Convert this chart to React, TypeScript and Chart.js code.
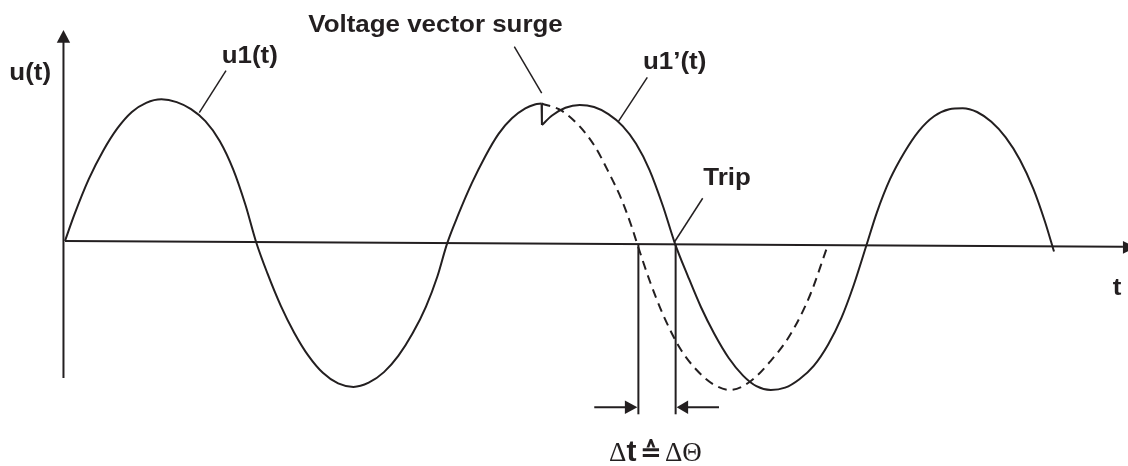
import React, { useEffect, useRef } from 'react';
import { Chart, registerables } from 'chart.js';

Chart.register(...registerables);

// time in ms (50 Hz, half period = 10 ms), voltage normalised to the amplitude
const u1Time = [0, 0.5, 1.25, 2.0, 2.75, 3.5, 4.25, 5.05, 5.85, 6.6, 7.35, 8.1, 8.8, 9.45, 10.0,
  10.6, 11.3, 12.0, 12.75, 13.5, 14.3, 15.1, 15.9, 16.7, 17.45, 18.2, 18.9, 19.5, 20.0,
  20.6, 21.3, 22.0, 22.7, 23.4, 24.1, 24.6, 24.95];
const u1Volt = [0, 0.19, 0.44, 0.64, 0.8, 0.915, 0.98, 1.005, 0.985, 0.935, 0.85, 0.71, 0.51, 0.255, -0.005,
  -0.23, -0.46, -0.65, -0.815, -0.935, -1.01, -1.035, -1.005, -0.93, -0.815, -0.655, -0.465, -0.25, -0.02,
  0.19, 0.41, 0.6, 0.76, 0.87, 0.94, 0.968, 0.975];

const surgeTime = [24.95, 24.97];
const surgeVolt = [0.975, 0.823];

const u1pTime = [24.97, 25.5, 26.2, 26.95, 27.7, 28.45, 29.2, 29.9, 30.6, 31.3, 31.94,
  32.6, 33.3, 34.0, 34.75, 35.5, 36.2, 36.95, 37.7, 38.45, 39.2, 39.95, 40.65, 41.3, 41.96,
  42.5, 43.2, 43.95, 44.7, 45.5, 46.3, 47.0, 47.75, 48.5, 49.25, 50.0, 50.7, 51.3, 51.78];
const u1pVolt = [0.823, 0.89, 0.945, 0.965, 0.95, 0.9, 0.815, 0.69, 0.505, 0.25, -0.02,
  -0.245, -0.47, -0.66, -0.83, -0.955, -1.03, -1.057, -1.04, -0.98, -0.885, -0.735, -0.545, -0.31, -0.03,
  0.2, 0.44, 0.63, 0.78, 0.885, 0.935, 0.942, 0.915, 0.845, 0.735, 0.575, 0.37, 0.14, -0.075];

const contTime = [24.95, 26.0, 26.96, 27.75, 28.45, 29.15, 29.67, 29.96,
  30.63, 31.32, 32.2, 33.07, 33.94, 34.82, 35.86, 36.91, 37.96, 39.01, 39.88];
const contVolt = [0.975, 0.924, 0.811, 0.669, 0.491, 0.291, 0.101, -0.021,
  -0.289, -0.525, -0.761, -0.915, -1.016, -1.057, -0.998, -0.856, -0.667, -0.383, -0.052];

const deltaStart = 30.02;
const deltaEnd = 31.97;

const INK = '#231f20';

function pts(ts: number[], vs: number[]) {
  return ts.map((t, i) => ({ x: t, y: vs[i] }));
}

const annotPlugin = {
  id: 'annot',
  afterDatasetsDraw(chart: any) {
    const { ctx, scales } = chart;
    const X = (v: number) => scales.x.getPixelForValue(v);
    const Y = (v: number) => scales.y.getPixelForValue(v);
    ctx.save();
    ctx.strokeStyle = INK;
    ctx.fillStyle = INK;
    ctx.lineCap = 'butt';

    const line = (t1: number, v1: number, t2: number, v2: number, w: number) => {
      ctx.beginPath();
      ctx.lineWidth = w;
      ctx.moveTo(X(t1), Y(v1));
      ctx.lineTo(X(t2), Y(v2));
      ctx.stroke();
    };
    const head = (tx: number, ty: number, dx: number, dy: number, len: number, hw: number) => {
      const n = Math.hypot(dx, dy);
      const ux = dx / n, uy = dy / n;
      const bx = tx - ux * len, by = ty - uy * len;
      ctx.beginPath();
      ctx.moveTo(tx, ty);
      ctx.lineTo(bx - uy * hw, by + ux * hw);
      ctx.lineTo(bx + uy * hw, by - ux * hw);
      ctx.closePath();
      ctx.fill();
    };

    // axes
    line(-0.08, -0.972, -0.08, 1.42, 2);
    head(X(-0.08), Y(1.496), 0, -1, 12.7, 6.7);
    line(0, 0, 55.39, -0.04, 2);
    head(X(56.07), Y(-0.045), 1, 0, 13, 6.3);

    // leader lines
    line(8.429, 1.208, 7.031, 0.91, 1.5);
    line(23.524, 1.378, 24.958, 1.048, 1.5);
    line(30.487, 1.161, 28.969, 0.846, 1.5);
    line(33.387, 0.303, 31.901, -0.009, 1.5);

    // delta t markers
    line(deltaStart, -0.02, deltaStart, -1.229, 2);
    line(deltaEnd, -0.022, deltaEnd, -1.229, 2);
    const ay = -1.179;
    line(27.71, ay, deltaStart - 0.5, ay, 2);
    head(X(deltaStart) - 1, Y(ay), 1, 0, 12.5, 6.8);
    line(deltaEnd + 0.5, ay, 34.24, ay, 2);
    head(X(deltaEnd) + 1, Y(ay), -1, 0, 11.5, 6.8);

    // texts
    const SANS = '"Liberation Sans", Arial, Helvetica, sans-serif';
    const SERIF = '"Liberation Serif", "Times New Roman", serif';
    const txt = (s: string, px: number, py: number, font: string, sx = 1.08) => {
      ctx.save();
      ctx.translate(px, py);
      ctx.scale(sx, 1);
      ctx.font = font;
      ctx.textAlign = 'left';
      ctx.textBaseline = 'alphabetic';
      ctx.fillText(s, 0, 0);
      ctx.restore();
    };
    const B = `bold 24px ${SANS}`;
    txt('u(t)', X(-2.916), Y(1.145), B);
    txt('u1(t)', X(8.204), Y(1.259), B);
    txt('Voltage vector surge', X(12.738), Y(1.484), B);
    txt('u1\u2019(t)', X(30.262), Y(1.22), B);
    txt('Trip', X(33.419), Y(0.397), B);
    txt('t', X(54.853), Y(-0.383), B);

    const ax = X(28.534), by = Y(-1.558);
    txt('\u0394', ax - 1, by, `27px ${SERIF}`, 1);
    txt('t', ax + 16.5, by, `bold 30px ${SANS}`, 1);
    txt('\u2259', ax + 30, by, `bold 26px "DejaVu Sans", sans-serif`, 1);
    txt('\u0394\u0398', ax + 55, by, `27px ${SERIF}`, 1);

    ctx.restore();
  },
};

export default function App() {
  const ref = useRef<HTMLCanvasElement | null>(null);
  useEffect(() => {
    document.body.style.margin = '0';
    const canvas = ref.current;
    if (!canvas) return;
    const base = {
      borderColor: INK,
      backgroundColor: INK,
      pointRadius: 0,
      fill: false,
      borderWidth: 2,
    };
    const chart = new Chart(canvas, {
      type: 'line',
      data: {
        datasets: [
          { ...base, label: 'u1(t)', data: pts(u1Time, u1Volt), cubicInterpolationMode: 'monotone' },
          { ...base, label: 'surge', data: pts(surgeTime, surgeVolt), tension: 0 },
          { ...base, label: "u1'(t)", data: pts(u1pTime, u1pVolt), cubicInterpolationMode: 'monotone' },
          { ...base, label: 'u1(t) continued', data: pts(contTime, contVolt), cubicInterpolationMode: 'monotone', borderDash: [9, 6], borderWidth: 2 },
        ],
      } as any,
      options: {
        animation: false,
        responsive: false,
        devicePixelRatio: 1,
        layout: { padding: 0 },
        plugins: { legend: { display: false }, tooltip: { enabled: false } },
        events: [],
        scales: {
          x: { type: 'linear', display: false, min: -3.403, max: 55.654 },
          y: { type: 'linear', display: false, min: -1.5957, max: 1.7092 },
        },
      } as any,
      plugins: [annotPlugin],
    });
    return () => chart.destroy();
  }, []);
  return (
    <div style={{ position: 'fixed', left: 0, top: 0, width: 1128, height: 466, background: '#fff' }}>
      <canvas ref={ref} width={1128} height={466} style={{ display: 'block' }} />
    </div>
  );
}
